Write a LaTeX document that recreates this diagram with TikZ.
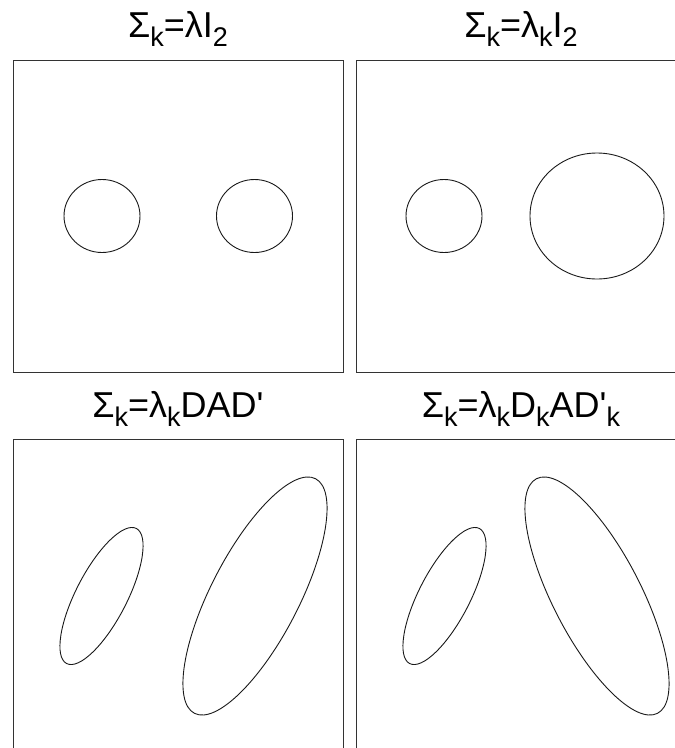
\documentclass[tikz,border=0pt]{standalone}
\usepackage{fontspec}
\setmainfont{Liberation Sans}
\newcommand{\lowsub}[1]{\raisebox{-9.5pt}{\fontsize{27}{27}\selectfont #1}}
\tikzset{
  panel/.style={draw=black!80, line width=1pt},
  curve/.style={draw=black!90, line width=0.9pt},
  ttl/.style={anchor=base, inner sep=0pt, font=\fontsize{36}{36}\selectfont}
}
\begin{document}
\begin{tikzpicture}[x=1pt,y=-1pt]
\useasboundingbox (0,0) rectangle (675,748);
% panels
\draw[panel] (13,60) rectangle (343,372);
\draw[panel] (356,60) rectangle (686,372);
\draw[panel] (13,439) rectangle (343,751);
\draw[panel] (356,439) rectangle (686,751);
% titles
\node[ttl] (t1) at (178,37) {Σ\lowsub{k}=λI\lowsub{2}};
\node[ttl] (t2) at (521,37) {Σ\lowsub{k}=λ\lowsub{k}I\lowsub{2}};
\node[ttl] (t3) at (178,417) {Σ\lowsub{k}=λ\lowsub{k}DAD\textquotesingle};
\node[ttl] (t4) at (521,417) {Σ\lowsub{k}=λ\lowsub{k}D\lowsub{k}AD\textquotesingle\lowsub{k}};
% top-left: equal spheres
\draw[curve] (102,216) ellipse [x radius=38, y radius=36.5];
\draw[curve] (254.5,216) ellipse [x radius=38, y radius=36.5];
% top-right: spheres of different volume
\draw[curve] (444,216) ellipse [x radius=38, y radius=36.5];
\draw[curve] (597,216) ellipse [x radius=67, y radius=63];
% bottom-left: same orientation and shape
\draw[curve] (101.5,596) ellipse [x radius=76, y radius=25.5, rotate=62.7];
\draw[curve] (255,596) ellipse [x radius=132, y radius=44, rotate=62.7];
% bottom-right: different orientation
\draw[curve] (444.5,596) ellipse [x radius=76, y radius=25.5, rotate=62.7];
\draw[curve] (597,596) ellipse [x radius=132, y radius=44, rotate=-62.7];
\end{tikzpicture}
\end{document}
